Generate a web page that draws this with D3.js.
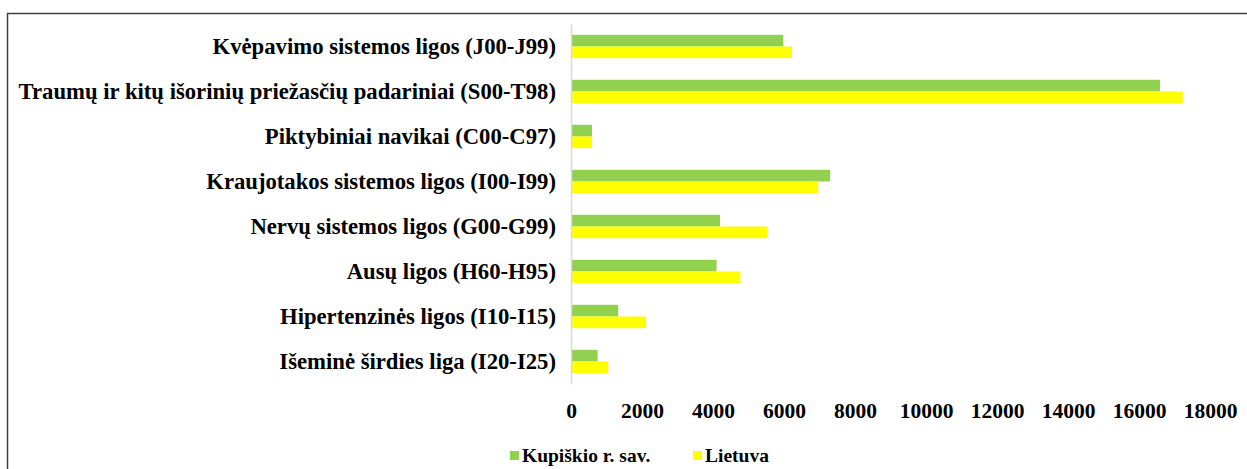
<!DOCTYPE html>
<html>
<head>
<meta charset="utf-8">
<script src="https://cdn.jsdelivr.net/npm/d3@7"></script>
<style>
  html, body { margin: 0; padding: 0; background: #fff; }
  svg { display: block; }
  text { font-family: "Liberation Serif", "Times New Roman", serif; font-weight: bold; fill: #000; }
</style>
</head>
<body>
<svg id="chart" width="1247" height="469"></svg>
<script>
const categories = [
  "Kvėpavimo sistemos ligos (J00-J99)",
  "Traumų ir kitų išorinių priežasčių padariniai (S00-T98)",
  "Piktybiniai navikai (C00-C97)",
  "Kraujotakos sistemos ligos (I00-I99)",
  "Nervų sistemos ligos (G00-G99)",
  "Ausų ligos (H60-H95)",
  "Hipertenzinės ligos (I10-I15)",
  "Išeminė širdies liga (I20-I25)"
];
const seriesNames = ["Kupiškio r. sav.", "Lietuva"];
const kupiskis = [5980, 16590, 590, 7300, 4200, 4100, 1330, 750];
const lietuva  = [6225, 17230, 590, 6965, 5530, 4770, 2115, 1050];
const xTicks = [0, 2000, 4000, 6000, 8000, 10000, 12000, 14000, 16000, 18000];
const colors = ["#92D050", "#FFFF00"];

const svg = d3.select("#chart");

// outer frame
svg.append("rect")
  .attr("x", 7.5).attr("y", 13.5)
  .attr("width", 1300).attr("height", 500)
  .attr("fill", "none").attr("stroke", "#404040").attr("stroke-width", 1.5);

const x = d3.scaleLinear().domain([0, 18000]).range([571, 1210]);
const y = d3.scaleBand().domain(categories).range([24, 384])
  .paddingInner(0.48).paddingOuter(0.24);
const ySub = d3.scaleBand().domain(seriesNames).range([0, y.bandwidth()]);

const data = categories.map((c, i) => ({ cat: c, values: [kupiskis[i], lietuva[i]] }));

// bars
const groups = svg.append("g").selectAll("g").data(data).join("g")
  .attr("transform", d => `translate(0,${y(d.cat)})`);
groups.selectAll("rect")
  .data(d => d.values.map((v, j) => ({ v, s: seriesNames[j], j })))
  .join("rect")
  .attr("x", x(0))
  .attr("y", d => ySub(d.s))
  .attr("width", d => x(d.v) - x(0))
  .attr("height", ySub.bandwidth())
  .attr("fill", d => colors[d.j]);

// category axis
const yAxis = svg.append("g")
  .attr("transform", `translate(${x(0)},0)`)
  .call(d3.axisLeft(y).tickSize(0).tickPadding(15));
yAxis.select(".domain").attr("stroke", "#d9d9d9").attr("stroke-width", 1.5);
yAxis.selectAll("text").style("font-size", "22.7px").attr("dy", "0.35em");

// value axis
const xAxis = svg.append("g")
  .attr("transform", `translate(0,384)`)
  .call(d3.axisBottom(x).tickValues(xTicks).tickFormat(d3.format("d")).tickSize(0).tickPadding(19));
xAxis.select(".domain").remove();
xAxis.selectAll("text").style("font-size", "21.5px");

// legend
const legend = svg.append("g").attr("transform", "translate(510,450)");
const legendX = [0, 183];
seriesNames.forEach((name, j) => {
  const g = legend.append("g").attr("transform", `translate(${legendX[j]},0)`);
  g.append("rect").attr("width", 9).attr("height", 9).attr("y", 1).attr("fill", colors[j]);
  g.append("text").attr("x", 12).attr("y", 11.5).style("font-size", "19.5px").text(name);
});
</script>
</body>
</html>
